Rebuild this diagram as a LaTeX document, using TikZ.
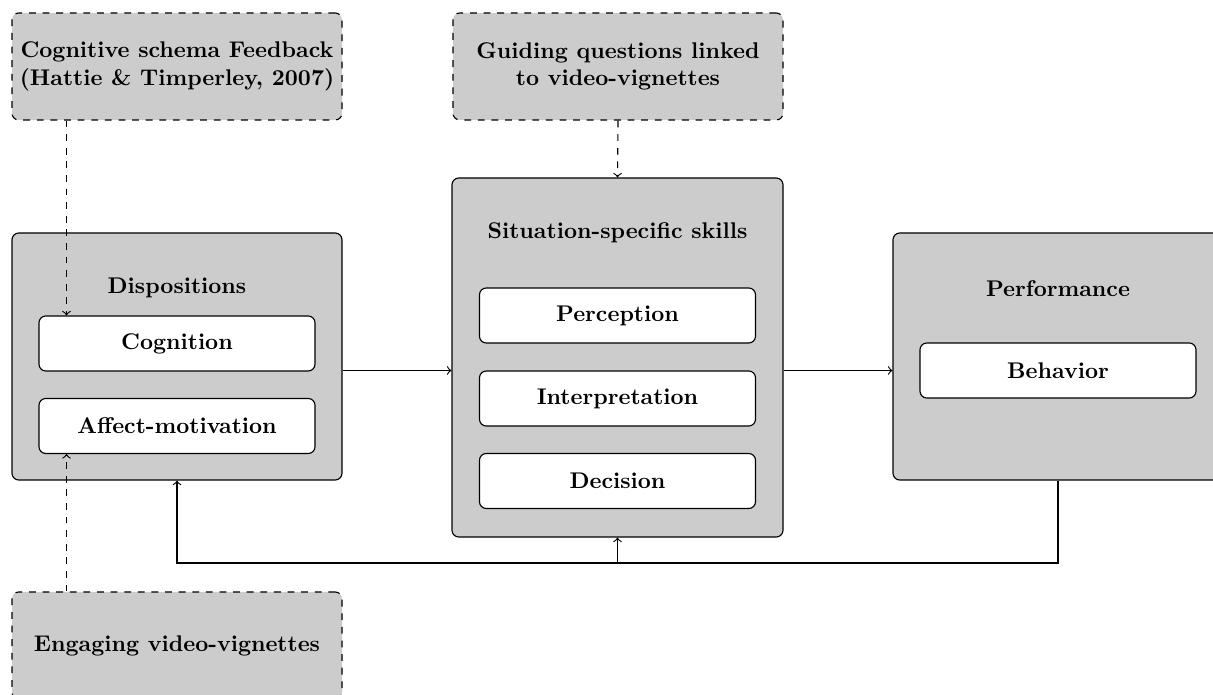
\documentclass[tikz,border=0pt]{standalone}
\newlength\pxu
\setlength\pxu{0.4409pt}
\begin{document}
\begin{tikzpicture}[x=\pxu,y=-\pxu, line width=0.5pt,
  outerbox/.style={draw=black, fill=gray!40, rounded corners=3pt, minimum width=330*\pxu, inner sep=0pt},
  innerbox/.style={draw=black, fill=white, rounded corners=3pt, minimum width=276*\pxu, minimum height=55*\pxu, inner sep=0pt, font=\bfseries},
  dashbox/.style={outerbox, dashed, minimum height=107*\pxu, align=center, font=\bfseries},
  titletext/.style={font=\bfseries, anchor=base, inner sep=0pt},
  link/.style={->, draw=black},
  dlink/.style={->, dashed, draw=black}]
\clip (0,0) rectangle (1213,695);
% source boxes
\node[dashbox] (cogfb) at (177,66.5) {Cognitive schema Feedback\\(Hattie \& Timperley, 2007)};
\node[dashbox] (guide) at (618,66.5) {Guiding questions linked\\to video-vignettes};
\node[dashbox] (eng) at (177,645.5) {Engaging video-vignettes};
% dispositions
\node[outerbox, minimum height=247*\pxu] (disp) at (177,356.5) {};
\node[titletext] (dispt) at (177,294) {Dispositions};
\node[innerbox] (cog) at (177,343.5) {Cognition};
\node[innerbox] (aff) at (177,426) {Affect-motivation};
% situation-specific skills
\node[outerbox, minimum height=359*\pxu, minimum width=331*\pxu] (sit) at (617.5,357.5) {};
\node[titletext] (sitt) at (617.5,239) {Situation-specific skills};
\node[innerbox] (perc) at (617.5,315.5) {Perception};
\node[innerbox] (interp) at (617.5,398.5) {Interpretation};
\node[innerbox] (dec) at (617.5,481) {Decision};
% performance
\node[outerbox, minimum height=247*\pxu] (perf) at (1058,356.5) {};
\node[titletext] (perft) at (1058,297) {Performance};
\node[innerbox] (beh) at (1058,370.5) {Behavior};
% connectors
\coordinate (lx) at (66.5,0);
\coordinate (fb) at (617.5,563);
\draw[link] (disp.east |- beh) -- (sit.west |- beh);
\draw[link] (sit.east |- beh) -- (perf.west |- beh);
\draw[link] (perf.south) |- (fb) -| (disp.south);
\draw[link] (fb) -- (sit.south);
\draw[dlink] (cogfb.south -| lx) -- (cog.north -| lx);
\draw[dlink] (guide.south) -- (sit.north);
\draw[dlink] (eng.north -| lx) -- (aff.south -| lx);
\end{tikzpicture}
\end{document}
